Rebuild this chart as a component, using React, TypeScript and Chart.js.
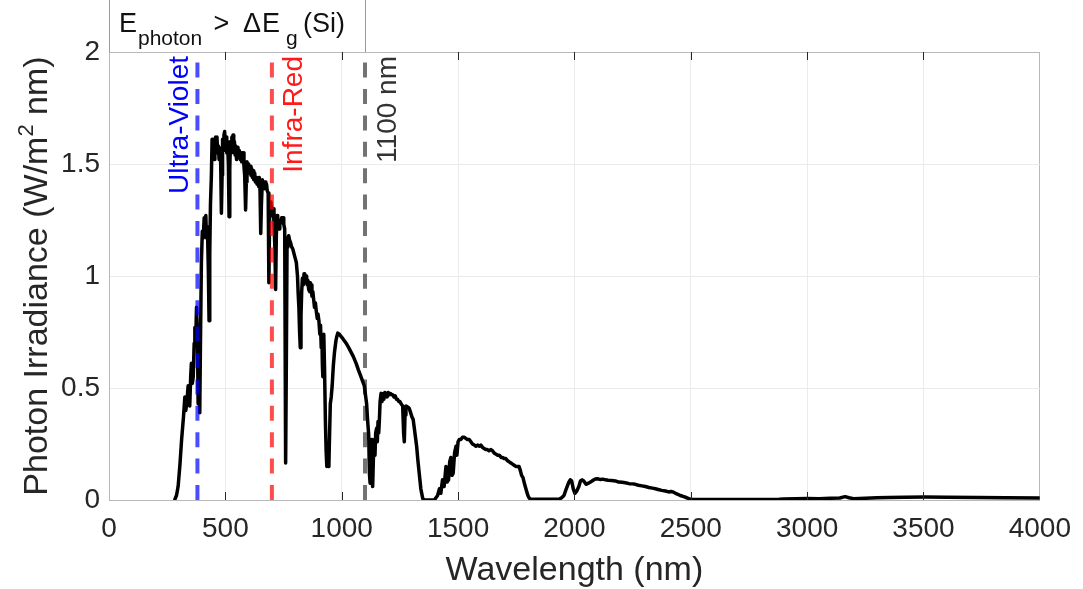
import React, { useEffect, useRef } from 'react';
import { Chart, registerables } from 'chart.js';

Chart.register(...registerables);

// ---------- data ----------
const wavelengths = [
  280, 283, 290, 297, 305, 312, 320, 326, 330, 335, 340, 344, 347, 351, 354, 358, 362, 366, 369, 373,
  376, 380, 383, 387, 390, 393, 397, 401, 405, 409, 412, 416, 419, 423, 427, 430, 433, 436, 440, 443,
  446, 449, 452, 455, 458, 461, 464, 467, 470, 473, 477, 480, 483, 486, 488, 491, 494, 497, 500, 503,
  506, 509, 513, 516, 519, 522, 525, 528, 531, 533, 536, 539, 542, 545, 548, 551, 554, 557, 560, 564,
  567, 570, 573, 576, 580, 583, 587, 590, 593, 596, 600, 603, 606, 610, 613, 616, 619, 622, 626, 629,
  633, 636, 640, 643, 646, 649, 652, 655, 659, 662, 665, 668, 671, 674, 677, 680, 684, 687, 690, 693,
  696, 699, 702, 705, 709, 713, 716, 719, 722, 725, 728, 731, 734, 738, 742, 745, 748, 751, 755, 759,
  762, 765, 769, 772, 776, 780, 785, 790, 795, 800, 805, 810, 813, 816, 819, 822, 825, 828, 831, 835,
  838, 841, 845, 849, 852, 855, 858, 862, 865, 869, 872, 876, 879, 883, 887, 891, 895, 898, 902, 906,
  909, 912, 915, 917, 919, 921, 923, 926, 930, 933, 936, 940, 943, 945, 948, 951, 955, 959, 964, 969,
  975, 979, 983, 990, 997, 1005, 1012, 1019, 1030, 1040, 1050, 1062, 1072, 1083, 1090, 1097, 1102, 1107, 1111, 1116,
  1119, 1122, 1125, 1127, 1130, 1133, 1136, 1140, 1143, 1146, 1150, 1153, 1156, 1159, 1162, 1165, 1169, 1173, 1177, 1181,
  1185, 1190, 1195, 1200, 1205, 1210, 1215, 1219, 1225, 1230, 1235, 1240, 1245, 1250, 1255, 1262, 1266, 1269, 1272, 1276,
  1283, 1290, 1296, 1302, 1307, 1312, 1317, 1322, 1327, 1333, 1340, 1348, 1355, 1398, 1405, 1412, 1420, 1426, 1433, 1440,
  1448, 1453, 1459, 1464, 1469, 1474, 1479, 1485, 1491, 1495, 1500, 1505, 1512, 1519, 1526, 1533, 1540, 1548, 1555, 1562,
  1570, 1577, 1585, 1592, 1598, 1605, 1612, 1619, 1626, 1633, 1640, 1648, 1655, 1662, 1670, 1677, 1685, 1691, 1698, 1705,
  1713, 1720, 1727, 1734, 1741, 1748, 1755, 1762, 1768, 1773, 1779, 1786, 1793, 1800, 1806, 1812, 1934, 1945, 1955, 1965,
  1976, 1982, 1988, 1995, 2002, 2010, 2019, 2026, 2033, 2040, 2050, 2060, 2069, 2080, 2090, 2098, 2110, 2122, 2133, 2145,
  2160, 2176, 2190, 2205, 2219, 2235, 2250, 2262, 2275, 2290, 2305, 2320, 2335, 2348, 2360, 2375, 2391, 2405, 2415, 2426,
  2440, 2455, 2470, 2483, 2495, 2505, 2700, 2880, 2900, 2950, 3000, 3050, 3100, 3140, 3163, 3180, 3200, 3250, 3300, 3350,
  3420, 3506, 3600, 3735, 3850, 4000,
];

const irradiance = [
  0, 0.003, 0.02, 0.06, 0.16, 0.27, 0.37, 0.46, 0.4, 0.44, 0.51, 0.45, 0.42, 0.55, 0.61, 0.52, 0.55, 0.7, 0.77, 0.72,
  0.86, 0.75, 0.43, 0.5, 0.39, 0.7, 1.06, 1.2, 1.17, 1.26, 1.22, 1.27, 1.17, 1.22, 1.02, 0.8, 1.1, 1.32, 1.45, 1.61,
  1.55, 1.6, 1.52, 1.58, 1.62, 1.56, 1.62, 1.55, 1.58, 1.52, 1.57, 1.5, 1.28, 1.45, 1.61, 1.56, 1.63, 1.645, 1.58, 1.62,
  1.55, 1.6, 1.5, 1.265, 1.48, 1.6, 1.55, 1.62, 1.57, 1.63, 1.56, 1.6, 1.54, 1.58, 1.52, 1.57, 1.575, 1.53, 1.56, 1.52,
  1.55, 1.51, 1.55, 1.55, 1.49, 1.45, 1.295, 1.42, 1.51, 1.47, 1.5, 1.46, 1.49, 1.45, 1.48, 1.44, 1.47, 1.43, 1.46, 1.42,
  1.44, 1.41, 1.44, 1.4, 1.44, 1.38, 1.19, 1.32, 1.43, 1.4, 1.42, 1.39, 1.42, 1.4, 1.41, 1.38, 1.37, 0.97, 1.25, 1.33,
  1.29, 1.31, 1.27, 1.3, 1.24, 1.12, 0.94, 1.18, 1.27, 1.22, 1.25, 1.21, 1.23, 1.24, 1.26, 1.24, 1.26, 1.23, 1.21, 0.165,
  0.6, 1.13, 1.17, 1.18, 1.16, 1.15, 1.13, 1.12, 1.1, 1.08, 1.06, 1.0, 0.92, 0.86, 0.75, 0.68, 0.82, 0.93, 0.99, 0.96,
  1.01, 1.0, 0.97, 1.0, 0.96, 0.98, 0.94, 0.93, 0.97, 0.96, 0.91, 0.93, 0.9, 0.86, 0.88, 0.84, 0.81, 0.83, 0.8, 0.74,
  0.78, 0.68, 0.72, 0.6, 0.55, 0.7, 0.74, 0.6, 0.35, 0.22, 0.15, 0.19, 0.15, 0.16, 0.3, 0.43, 0.46, 0.51, 0.6, 0.66,
  0.71, 0.73, 0.745, 0.74, 0.73, 0.72, 0.71, 0.7, 0.68, 0.66, 0.64, 0.61, 0.58, 0.55, 0.53, 0.51, 0.47, 0.43, 0.36, 0.29,
  0.12, 0.075, 0.2, 0.27, 0.1, 0.06, 0.18, 0.27, 0.2, 0.3, 0.32, 0.26, 0.35, 0.3, 0.36, 0.44, 0.476, 0.44, 0.47, 0.45,
  0.48, 0.476, 0.46, 0.48, 0.47, 0.475, 0.47, 0.47, 0.46, 0.465, 0.45, 0.45, 0.44, 0.44, 0.43, 0.42, 0.3, 0.26, 0.38, 0.42,
  0.415, 0.41, 0.39, 0.37, 0.36, 0.32, 0.28, 0.24, 0.18, 0.12, 0.05, 0.007, 0, 0, 0.01, 0.02, 0.05, 0.03, 0.09, 0.06,
  0.15, 0.08, 0.09, 0.17, 0.19, 0.11, 0.12, 0.21, 0.24, 0.2, 0.26, 0.27, 0.27, 0.28, 0.28, 0.275, 0.27, 0.27, 0.26, 0.25,
  0.245, 0.24, 0.245, 0.24, 0.245, 0.235, 0.23, 0.225, 0.225, 0.22, 0.225, 0.22, 0.21, 0.205, 0.2, 0.2, 0.19, 0.19, 0.185, 0.185,
  0.175, 0.17, 0.165, 0.16, 0.155, 0.15, 0.15, 0.15, 0.13, 0.11, 0.1, 0.07, 0.045, 0.02, 0.008, 0.003, 0.003, 0.01, 0.02, 0.05,
  0.08, 0.09, 0.085, 0.05, 0.03, 0.04, 0.06, 0.085, 0.09, 0.085, 0.07, 0.075, 0.08, 0.088, 0.094, 0.095, 0.092, 0.093, 0.09, 0.088,
  0.087, 0.085, 0.08, 0.079, 0.077, 0.073, 0.072, 0.07, 0.066, 0.063, 0.06, 0.056, 0.053, 0.05, 0.047, 0.043, 0.04, 0.036, 0.038, 0.035,
  0.027, 0.02, 0.015, 0.01, 0.005, 0.003, 0.002, 0.003, 0.005, 0.006, 0.007, 0.006, 0.008, 0.009, 0.015, 0.01, 0.006, 0.008, 0.01, 0.011,
  0.012, 0.013, 0.012, 0.011, 0.01, 0.009,
];

const xTicks = [0, 500, 1000, 1500, 2000, 2500, 3000, 3500, 4000];
const yTicks = [0, 0.5, 1, 1.5, 2];
const xRange = [0, 4000];
const yRange = [0, 2];

const markerWavelengths = [380, 700, 1100];
const markerLabels = ['Ultra-Violet', 'Infra-Red', '1100 nm'];
const bandgapEdge = 1100;

const xTitle = 'Wavelength (nm)';
const yTitleParts = ['Photon Irradiance (W/m', '2', ' nm)'];
const boxTitleParts = ['E', 'photon', '>', '\u0394', 'E', 'g', '(Si)'];

// ---------- styles ----------
const FONT = '"Liberation Sans", Arial, Helvetica, sans-serif';
const TEXT = '#262626';
const EDGE = '#b9b9b9';
const GRID = '#ebebeb';
const markerLineColors = ['rgba(0,0,255,0.7)', 'rgba(255,0,0,0.7)', 'rgba(0,0,0,0.55)'];
const markerTextColors = ['#0000ff', '#ff1a1a', '#333333'];
const markerTextOffsets = [-9, 30, 31];
// title piece layout: [dx from plot left, size, baseline y]
const boxTitleLayout: [number, number, number][] = [
  [10, 27, 32], [29, 21, 45], [104.5, 27, 32], [134, 27, 32], [153, 27, 32], [177, 21, 45], [194, 27, 32],
];

const annotationPlugin = {
  id: 'annotations',
  afterDraw(chart: any) {
    const { ctx, chartArea: a, scales } = chart;
    const x = scales.x;
    ctx.save();

    // inward tick marks on x (bottom and top)
    ctx.strokeStyle = TEXT;
    ctx.lineWidth = 1;
    ctx.beginPath();
    for (const v of xTicks) {
      if (v === xRange[0] || v === xRange[1]) continue;
      const px = Math.round(x.getPixelForValue(v)) + 0.5;
      ctx.moveTo(px, a.bottom);
      ctx.lineTo(px, a.bottom - 8);
      ctx.moveTo(px, a.top);
      ctx.lineTo(px, a.top + 8);
    }
    ctx.stroke();

    // top title box
    const boxRight = Math.round(x.getPixelForValue(bandgapEdge)) + 0.5;
    ctx.strokeStyle = '#9a9a9a';
    ctx.beginPath();
    ctx.moveTo(Math.round(a.left) + 0.5, 0);
    ctx.lineTo(Math.round(a.left) + 0.5, a.top);
    ctx.moveTo(boxRight, 0);
    ctx.lineTo(boxRight, a.top);
    ctx.stroke();

    ctx.fillStyle = '#111111';
    ctx.textAlign = 'left';
    ctx.textBaseline = 'alphabetic';
    boxTitleParts.forEach((t, i) => {
      const [dx, size, by] = boxTitleLayout[i];
      ctx.font = `${size}px ${FONT}`;
      ctx.fillText(t, a.left + dx, by);
    });

    // vertical marker labels
    ctx.font = `28px ${FONT}`;
    markerWavelengths.forEach((w, i) => {
      const px = x.getPixelForValue(w) + markerTextOffsets[i];
      ctx.save();
      ctx.translate(px, a.top + 4);
      ctx.rotate(-Math.PI / 2);
      ctx.textAlign = 'right';
      ctx.textBaseline = 'alphabetic';
      ctx.fillStyle = markerTextColors[i];
      ctx.fillText(markerLabels[i], 0, 0);
      ctx.restore();
    });

    // y axis title with superscript
    ctx.save();
    ctx.translate(a.left - 62, (a.top + a.bottom) / 2);
    ctx.rotate(-Math.PI / 2);
    ctx.fillStyle = TEXT;
    ctx.textAlign = 'left';
    ctx.textBaseline = 'alphabetic';
    const big = `34px ${FONT}`;
    const sup = `22px ${FONT}`;
    ctx.font = big;
    const w0 = ctx.measureText(yTitleParts[0]).width;
    const w2 = ctx.measureText(yTitleParts[2]).width;
    ctx.font = sup;
    const w1 = ctx.measureText(yTitleParts[1]).width;
    let cx = -(w0 + w1 + w2) / 2;
    ctx.font = big;
    ctx.fillText(yTitleParts[0], cx, 0);
    cx += w0;
    ctx.font = sup;
    ctx.fillText(yTitleParts[1], cx, -14);
    cx += w1;
    ctx.font = big;
    ctx.fillText(yTitleParts[2], cx, 0);
    ctx.restore();

    ctx.restore();
  },
};

export default function App() {
  const canvasRef = useRef<HTMLCanvasElement | null>(null);

  useEffect(() => {
    const canvas = canvasRef.current;
    if (!canvas) return;
    const spectrum = wavelengths.map((w, i) => ({ x: w, y: irradiance[i] }));
    const markerSets = markerWavelengths.map((w, i) => ({
      data: [
        { x: w, y: yRange[0] },
        { x: w, y: yRange[1] },
      ],
      showLine: true,
      borderColor: markerLineColors[i],
      borderWidth: 4,
      borderDash: [15, 11.4],
      pointRadius: 0,
      order: 1,
    }));

    const chart = new Chart(canvas, {
      type: 'scatter',
      data: {
        datasets: [
          {
            data: spectrum,
            showLine: true,
            borderColor: '#000000',
            borderWidth: 3.5,
            borderJoinStyle: 'round',
            pointRadius: 0,
            order: 2,
          } as any,
          ...markerSets,
        ],
      },
      options: {
        responsive: false,
        animation: false,
        events: [],
        layout: { padding: { top: 52, right: 41, left: 0, bottom: 0 } },
        plugins: { legend: { display: false }, tooltip: { enabled: false }, title: { display: false } },
        scales: {
          x: {
            type: 'linear',
            min: xRange[0],
            max: xRange[1],
            afterBuildTicks: (s: any) => {
              s.ticks = xTicks.map((v) => ({ value: v }));
            },
            afterFit: (s: any) => {
              s.height = 89;
            },
            grid: {
              color: (c: any) => (c.tick && c.tick.value === xRange[1] ? EDGE : GRID),
              lineWidth: 1,
              drawTicks: false,
            },
            border: { display: true, color: EDGE, width: 1 },
            ticks: {
              color: TEXT,
              padding: 12,
              maxRotation: 0,
              autoSkip: false,
              font: { family: FONT, size: 28 },
              callback: (v: any) => String(v),
            },
            title: {
              display: true,
              text: xTitle,
              color: TEXT,
              font: { family: FONT, size: 34, lineHeight: 1.1 },
              padding: { top: 0, bottom: 0 },
            },
          },
          y: {
            type: 'linear',
            min: yRange[0],
            max: yRange[1],
            afterBuildTicks: (s: any) => {
              s.ticks = yTicks.map((v) => ({ value: v }));
            },
            afterFit: (s: any) => {
              s.width = 109;
            },
            grid: {
              color: (c: any) => (c.tick && c.tick.value === yRange[1] ? EDGE : GRID),
              lineWidth: 1,
              drawTicks: false,
            },
            border: { display: true, color: EDGE, width: 1 },
            ticks: {
              color: TEXT,
              padding: 9,
              autoSkip: false,
              font: { family: FONT, size: 28 },
              callback: (v: any) => String(v),
            },
          },
        },
      },
      plugins: [annotationPlugin],
    } as any);

    return () => chart.destroy();
  }, []);

  return (
    <div style={{ position: 'fixed', left: 0, top: 0, width: 1083, height: 589, background: '#ffffff' }}>
      <canvas ref={canvasRef} width={1083} height={589} style={{ display: 'block', width: 1083, height: 589 }} />
    </div>
  );
}
